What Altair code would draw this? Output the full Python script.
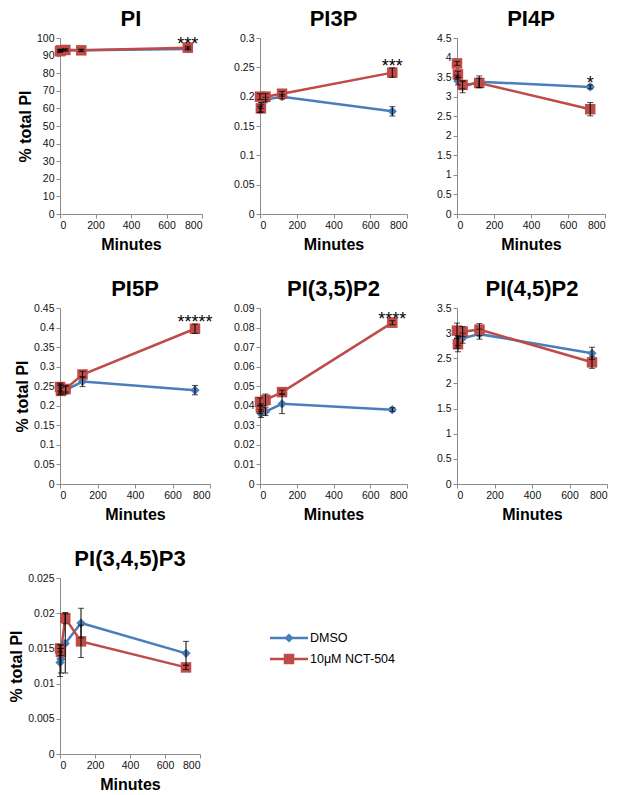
import altair as alt
import pandas as pd

# ---------------- data ----------------
times = [0, 5, 30, 120, 720]
series_names = ["DMSO", "10μM NCT-504"]
series_colors = ["#4A7EBB", "#BE4B48"]

panel_names = ["PI", "PI3P", "PI4P", "PI5P", "PI(3,5)P2", "PI(4,5)P2", "PI(3,4,5)P3"]
y_max = [100, 0.3, 4.5, 0.45, 0.09, 3.5, 0.025]
y_step = [10, 0.05, 0.5, 0.05, 0.01, 0.5, 0.005]
stars = ["***", "***", "*", "*****", "****", "", ""]
x_ticks = [0, 200, 400, 600, 800]

pi_dmso = [93.0, 93.0, 93.2, 93.0, 93.8]
pi_dmso_err = [0.5, 0.5, 0.5, 0.5, 0.6]
pi_nct = [92.5, 93.0, 93.2, 93.0, 94.5]
pi_nct_err = [0.8, 0.6, 0.6, 0.6, 0.8]

pi3p_dmso = [0.178, 0.185, 0.195, 0.200, 0.175]
pi3p_dmso_err = [0.005, 0.005, 0.004, 0.004, 0.008]
pi3p_nct = [0.200, 0.180, 0.200, 0.205, 0.241]
pi3p_nct_err = [0.005, 0.006, 0.005, 0.004, 0.008]

pi4p_dmso = [3.50, 3.40, 3.25, 3.38, 3.25]
pi4p_dmso_err = [0.05, 0.10, 0.15, 0.15, 0.05]
pi4p_nct = [3.85, 3.57, 3.30, 3.35, 2.68]
pi4p_nct_err = [0.05, 0.08, 0.10, 0.12, 0.17]

pi5p_dmso = [0.240, 0.245, 0.240, 0.262, 0.240]
pi5p_dmso_err = [0.012, 0.010, 0.010, 0.013, 0.012]
pi5p_nct = [0.248, 0.238, 0.243, 0.280, 0.397]
pi5p_nct_err = [0.010, 0.008, 0.008, 0.008, 0.012]

pi35p2_dmso = [0.038, 0.036, 0.037, 0.041, 0.038]
pi35p2_dmso_err = [0.002, 0.002, 0.002, 0.005, 0.001]
pi35p2_nct = [0.042, 0.039, 0.043, 0.047, 0.0825]
pi35p2_nct_err = [0.002, 0.002, 0.003, 0.001, 0.001]

pi45p2_dmso = [2.80, 2.85, 2.90, 2.98, 2.60]
pi45p2_dmso_err = [0.10, 0.10, 0.10, 0.10, 0.12]
pi45p2_nct = [3.05, 2.78, 3.03, 3.07, 2.42]
pi45p2_nct_err = [0.15, 0.15, 0.10, 0.12, 0.12]

pip3_dmso = [0.0130, 0.0135, 0.0157, 0.0186, 0.0143]
pip3_dmso_err = [0.0020, 0.0020, 0.0042, 0.0021, 0.0017]
pip3_nct = [0.0150, 0.0145, 0.0193, 0.0160, 0.0123]
pip3_nct_err = [0.0005, 0.0005, 0.0008, 0.0023, 0.0003]

panel_data = [
    (pi_dmso, pi_dmso_err, pi_nct, pi_nct_err),
    (pi3p_dmso, pi3p_dmso_err, pi3p_nct, pi3p_nct_err),
    (pi4p_dmso, pi4p_dmso_err, pi4p_nct, pi4p_nct_err),
    (pi5p_dmso, pi5p_dmso_err, pi5p_nct, pi5p_nct_err),
    (pi35p2_dmso, pi35p2_dmso_err, pi35p2_nct, pi35p2_nct_err),
    (pi45p2_dmso, pi45p2_dmso_err, pi45p2_nct, pi45p2_nct_err),
    (pip3_dmso, pip3_dmso_err, pip3_nct, pip3_nct_err),
]

FONT = "Liberation Sans, Arial, Helvetica, sans-serif"
color_scale = alt.Scale(domain=series_names, range=series_colors)
H = 176
LABEL_EXPR = "format(datum.value, '~r')"


def make_panel(i, width, ytitle):
    d_vals, d_err, n_vals, n_err = panel_data[i]
    rows = []
    for name, vals, errs in ((series_names[0], d_vals, d_err), (series_names[1], n_vals, n_err)):
        for t, v, e in zip(times, vals, errs):
            rows.append({"series": name, "time": t, "value": v, "lo": v - e, "hi": v + e})
    df = pd.DataFrame(rows)
    n_ticks = int(round(y_max[i] / y_step[i]))
    y_ticks = [round(k * y_step[i], 4) for k in range(n_ticks + 1)]

    x_scale = alt.Scale(domain=[0, 800], nice=False)
    y_scale = alt.Scale(domain=[0, y_max[i]], nice=False)
    x_axis = alt.Axis(values=x_ticks, title="Minutes", labelExpr=LABEL_EXPR,
                      labelOverlap=False, labelBound=False)
    if ytitle:
        y_axis = alt.Axis(values=y_ticks, labelExpr=LABEL_EXPR, title=ytitle,
                          labelOverlap=False, labelBound=False)
    else:
        y_axis = alt.Axis(values=y_ticks, labelExpr=LABEL_EXPR, title=None,
                          labelOverlap=False, labelBound=False)

    def X(f):
        return alt.X(f, scale=x_scale, axis=x_axis)

    def Y(f):
        return alt.Y(f, scale=y_scale, axis=y_axis)

    base = alt.Chart(df)
    line = base.mark_line(strokeWidth=2.5).encode(
        x=X("time:Q"), y=Y("value:Q"),
        color=alt.Color("series:N", scale=color_scale, legend=None),
        detail="series:N")
    pts_d = base.transform_filter(alt.datum.series == series_names[0]).mark_point(
        filled=True, opacity=1, shape="diamond", size=85, color=series_colors[0]).encode(
        x=X("time:Q"), y=Y("value:Q"))
    pts_n = base.transform_filter(alt.datum.series == series_names[1]).mark_point(
        filled=True, opacity=1, shape="square", size=110, color=series_colors[1]).encode(
        x=X("time:Q"), y=Y("value:Q"))
    err = base.mark_rule(color="black", strokeWidth=1).encode(
        x=X("time:Q"), y=Y("lo:Q"), y2="hi:Q")
    cap_lo = base.mark_tick(orient="horizontal", color="black", size=6, thickness=1).encode(
        x=X("time:Q"), y=Y("lo:Q"))
    cap_hi = base.mark_tick(orient="horizontal", color="black", size=6, thickness=1).encode(
        x=X("time:Q"), y=Y("hi:Q"))
    layers = [line, pts_d, pts_n, err, cap_lo, cap_hi]
    if stars[i]:
        top = float(df[df.time == times[-1]]["hi"].max())
        sdf = pd.DataFrame({"time": [times[-1]], "value": [top], "txt": [stars[i]]})
        star = alt.Chart(sdf).mark_text(fontSize=18, font=FONT, baseline="alphabetic", dy=4,
                                        color="black").encode(
            x=X("time:Q"), y=Y("value:Q"), text="txt:N")
        layers.append(star)
    return alt.layer(*layers).properties(
        width=width, height=H,
        title=alt.TitleParams(panel_names[i], fontSize=22, fontWeight="bold", font=FONT, offset=2, color="black"),
    )


def make_legend(width):
    ldf = pd.DataFrame({"series": series_names})
    y_enc = alt.Y("series:N", scale=alt.Scale(type="point", domain=series_names, range=[60, 81], padding=0), axis=None)
    base = alt.Chart(ldf)
    rule = base.mark_rule(strokeWidth=2.5).encode(
        x=alt.value(10), x2=alt.value(48), y=y_enc,
        color=alt.Color("series:N", scale=color_scale, legend=None))
    p_d = base.transform_filter(alt.datum.series == series_names[0]).mark_point(
        filled=True, opacity=1, shape="diamond", size=85, color=series_colors[0]).encode(x=alt.value(29), y=y_enc)
    p_n = base.transform_filter(alt.datum.series == series_names[1]).mark_point(
        filled=True, opacity=1, shape="square", size=110, color=series_colors[1]).encode(x=alt.value(29), y=y_enc)
    txt = base.mark_text(align="left", baseline="middle", fontSize=12.5, font=FONT, color="black").encode(
        x=alt.value(50), y=y_enc, text="series:N")
    return alt.layer(rule, p_d, p_n, txt).properties(width=width, height=H)


p1 = make_panel(0, 142, "% total PI")
p2 = make_panel(1, 147, None)
p3 = make_panel(2, 148, None)
p4 = make_panel(3, 150, "% total PI")
p5 = make_panel(4, 147, None)
p6 = make_panel(5, 150, None)
p7 = make_panel(6, 140, "% total PI")
leg = make_legend(147)

chart = alt.concat(
    p1, p2, p3, p4, p5, p6, p7, leg,
    columns=3, bounds="flush", spacing={"row": 94, "column": 50},
).properties(
    padding={"left": 0, "top": 0, "right": 0, "bottom": 0}
).configure_axis(
    grid=False,
    domainColor="#8c8c8c",
    tickColor="#8c8c8c",
    tickSize=4,
    labelFont=FONT,
    labelFontSize=10.5,
    labelColor="#111",
    labelPadding=2,
    titleFont=FONT,
    titleFontSize=16,
    titleFontWeight="bold",
    titleColor="black",
).configure_axisY(titlePadding=3).configure_axisX(titlePadding=6).configure_view(stroke=None)

chart.save("out.html", embed_options={"renderer": "svg", "actions": False})
